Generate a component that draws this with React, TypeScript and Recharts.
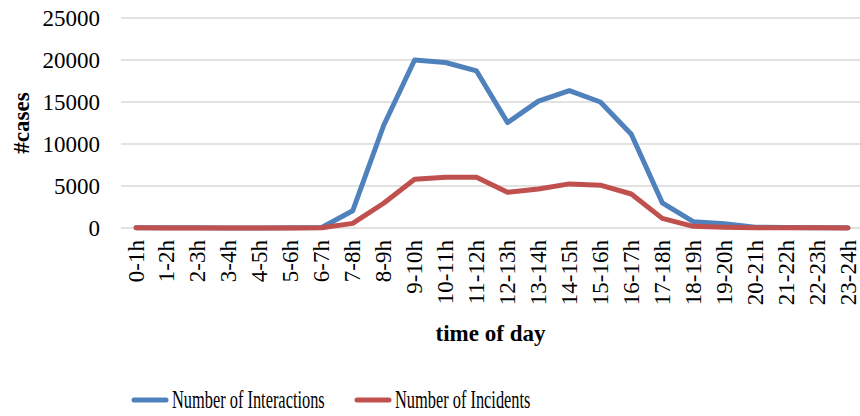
import { CartesianGrid, Line, LineChart, XAxis, YAxis } from "recharts";

const hours = [
  "0-1h", "1-2h", "2-3h", "3-4h", "4-5h", "5-6h", "6-7h", "7-8h", "8-9h", "9-10h", "10-11h", "11-12h",
  "12-13h", "13-14h", "14-15h", "15-16h", "16-17h", "17-18h", "18-19h", "19-20h", "20-21h", "21-22h",
  "22-23h", "23-24h",
];
const interactions = [
  30, 20, 15, 10, 10, 20, 60, 2050, 12200, 20000, 19700, 18700,
  12550, 15100, 16350, 15000, 11150, 3000, 750, 500, 100, 60, 30, 20,
];
const incidents = [
  20, 10, 10, 5, 5, 10, 30, 550, 2950, 5800, 6050, 6050,
  4250, 4650, 5250, 5100, 4050, 1150, 200, 100, 40, 30, 20, 10,
];
const yTicks = [0, 5000, 10000, 15000, 20000, 25000];
const seriesNames = ["Number of Interactions", "Number of Incidents"];

const BLUE = "#4f81bd";
const RED = "#c0504d";
const FONT = '"Liberation Serif", "Times New Roman", serif';

const data = hours.map((h, i) => ({
  hour: h,
  interactions: interactions[i],
  incidents: incidents[i],
}));

function HourTick({ x, y, payload }: any) {
  return (
    <text
      x={x}
      y={y}
      transform={`rotate(-90, ${x}, ${y})`}
      textAnchor="end"
      dominantBaseline="central"
      fontFamily={FONT}
      fontSize={23}
      fill="#000"
    >
      {payload.value}
    </text>
  );
}

function ChartLegend() {
  const items = [
    { name: seriesNames[0], color: BLUE, x: 132 },
    { name: seriesNames[1], color: RED, x: 355 },
  ];
  return (
    <svg width={860} height={28} style={{ position: "absolute", left: 0, top: 386 }}>
      {items.map((it) => (
        <g key={it.name}>
          <line x1={it.x + 2} y1={14} x2={it.x + 34} y2={14} stroke={it.color} strokeWidth={5} strokeLinecap="round" />
          <text
            transform={`translate(${it.x + 40},14) scale(0.655,1)`}
            dominantBaseline="central"
            fontFamily={FONT}
            fontSize={25}
            fill="#000"
          >
            {it.name}
          </text>
        </g>
      ))}
    </svg>
  );
}

export default function App() {
  return (
    <div style={{ position: "absolute", left: 0, top: 0, width: 860, height: 416, background: "#fff" }}>
      <LineChart width={860} height={416} data={data} margin={{ top: 18, right: 0, bottom: 68, left: 0 }}>
        <CartesianGrid vertical={false} stroke="#d9d9d9" strokeWidth={1.5} />
        <XAxis
          dataKey="hour"
          interval={0}
          height={120}
          padding={{ left: 15, right: 12 }}
          axisLine={false}
          tickLine={false}
          tickSize={0}
          tickMargin={12}
          tick={<HourTick />}
          label={(props: any) => {
            const vb = props.viewBox;
            return (
              <text
                x={vb.x + vb.width / 2}
                y={vb.y + 105}
                textAnchor="middle"
                dominantBaseline="central"
                fontFamily={FONT}
                fontSize={23}
                fontWeight="bold"
                fill="#000"
              >
                time of day
              </text>
            );
          }}
        />
        <YAxis
          width={121}
          domain={[0, 25000]}
          ticks={yTicks}
          axisLine={false}
          tickLine={false}
          tickSize={0}
          tickMargin={21}
          tick={{ fontSize: 23, fontFamily: FONT, fill: "#000" }}
          label={(props: any) => {
            const vb = props.viewBox;
            const cx = vb.x + 21;
            const cy = vb.y + vb.height / 2;
            return (
              <text
                x={cx}
                y={cy}
                transform={`rotate(-90, ${cx}, ${cy})`}
                textAnchor="middle"
                dominantBaseline="central"
                fontFamily={FONT}
                fontSize={23}
                fontWeight="bold"
                fill="#000"
              >
                #cases
              </text>
            );
          }}
        />
        <Line
          type="linear"
          dataKey="interactions"
          name={seriesNames[0]}
          stroke={BLUE}
          strokeWidth={5}
          strokeLinejoin="round"
          strokeLinecap="round"
          dot={false}
          isAnimationActive={false}
        />
        <Line
          type="linear"
          dataKey="incidents"
          name={seriesNames[1]}
          stroke={RED}
          strokeWidth={5}
          strokeLinejoin="round"
          strokeLinecap="round"
          dot={false}
          isAnimationActive={false}
        />
      </LineChart>
      <ChartLegend />
    </div>
  );
}
